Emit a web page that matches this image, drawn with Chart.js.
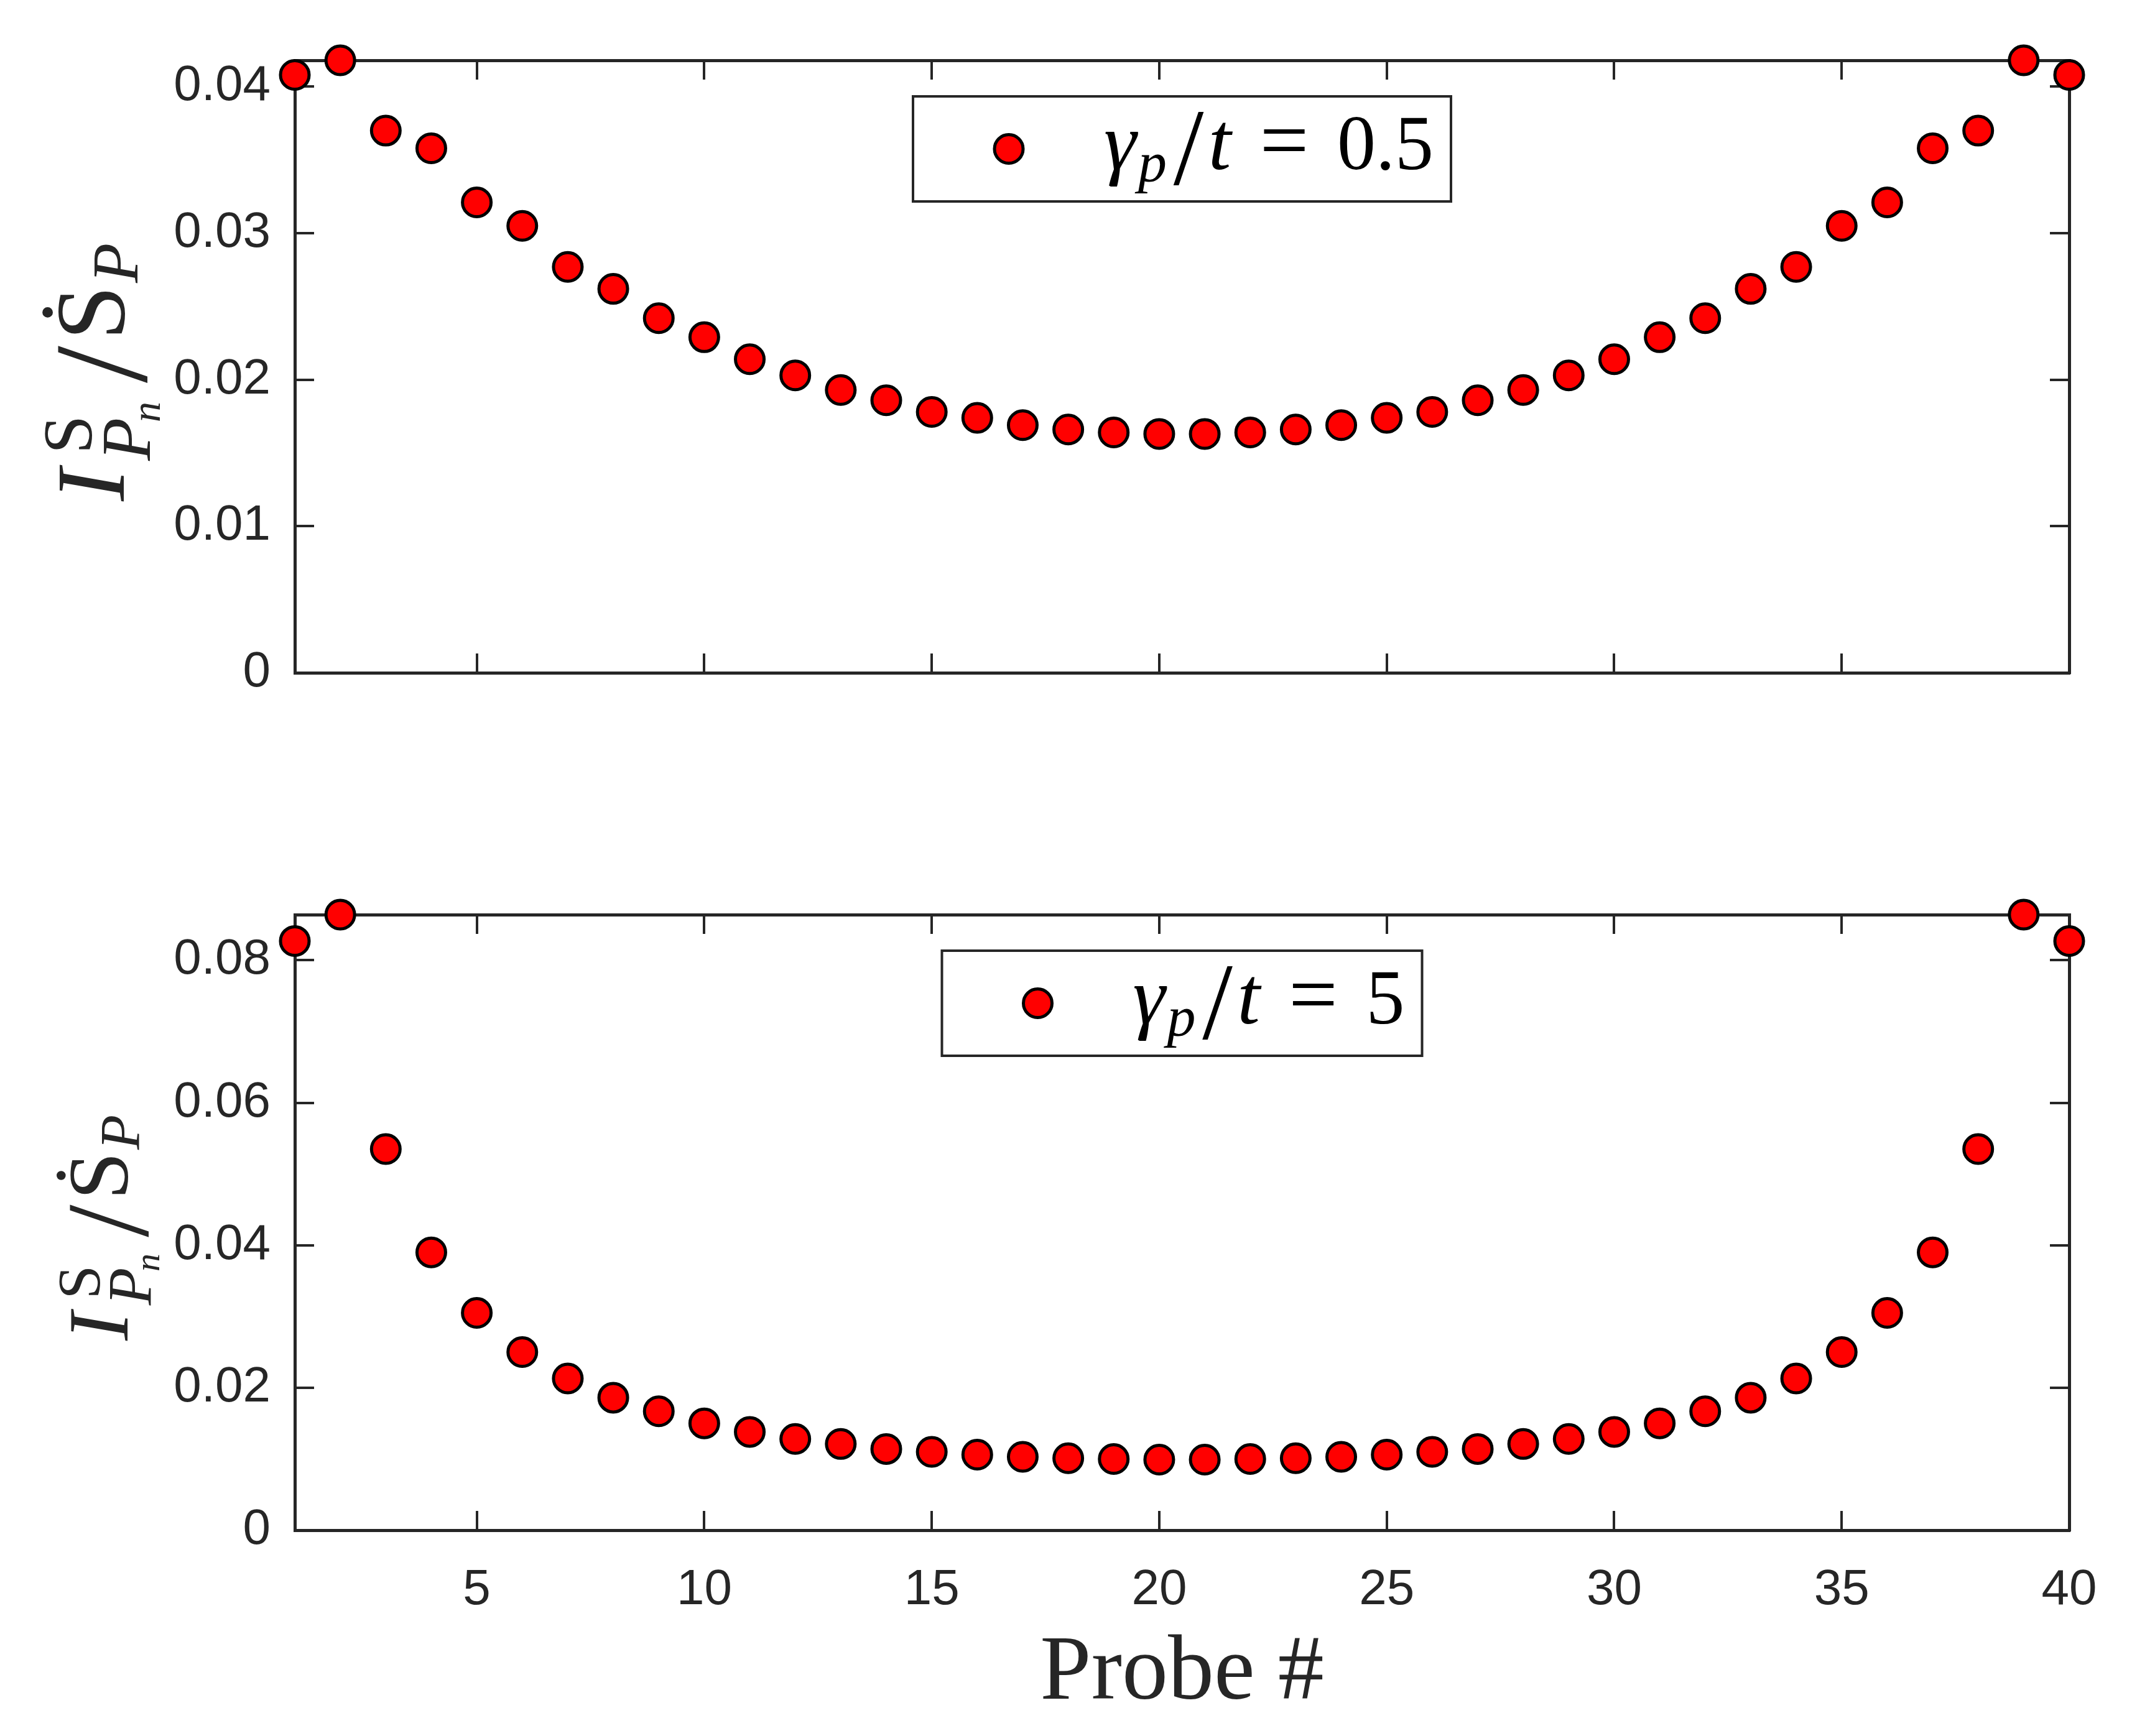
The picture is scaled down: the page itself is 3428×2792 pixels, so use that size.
<!DOCTYPE html>
<html>
<head>
<meta charset="utf-8">
<script src="https://cdn.jsdelivr.net/npm/chart.js@4.4.1/dist/chart.umd.min.js"></script>
<style>
html,body{margin:0;padding:0;background:#ffffff;}
canvas{position:absolute;left:0;}
#chartTop{top:0px;}
#chartBottom{top:1230px;}
</style>
</head>
<body>
<canvas id="chartTop" width="3428" height="1230" style="width:3428px;height:1230px"></canvas>
<canvas id="chartBottom" width="3428" height="1562" style="width:3428px;height:1562px"></canvas>
<script>
// ---------------- data ----------------
const probes = [1,2,3,4,5,6,7,8,9,10,11,12,13,14,15,16,17,18,19,20,
                21,22,23,24,25,26,27,28,29,30,31,32,33,34,35,36,37,38,39,40];

// gamma_p / t = 0.5
const ratioGamma05 = [0.0408,0.0418,0.0370,0.0358,0.0321,0.0305,0.0277,0.0262,0.0242,0.0229,
                      0.0214,0.0203,0.0193,0.0186,0.0178,0.0174,0.0169,0.0166,0.0164,0.0163,
                      0.0163,0.0164,0.0166,0.0169,0.0174,0.0178,0.0186,0.0193,0.0203,0.0214,
                      0.0229,0.0242,0.0262,0.0277,0.0305,0.0321,0.0358,0.0370,0.0418,0.0408];

// gamma_p / t = 5
const ratioGamma5 = [0.0827,0.0864,0.0535,0.0390,0.0305,0.0250,0.0213,0.0186,0.0167,0.0150,
                     0.0138,0.0128,0.0121,0.0114,0.0110,0.0106,0.0103,0.0101,0.0100,0.0099,
                     0.0099,0.0100,0.0101,0.0103,0.0106,0.0110,0.0114,0.0121,0.0128,0.0138,
                     0.0150,0.0167,0.0186,0.0213,0.0250,0.0305,0.0390,0.0535,0.0864,0.0827];

const xTickValues = [5,10,15,20,25,30,35,40];
const xTickLabels = ['5','10','15','20','25','30','35','40'];
const yTickValuesTop = [0,0.01,0.02,0.03,0.04];
const yTickLabelsTop = ['0','0.01','0.02','0.03','0.04'];
const yTickValuesBottom = [0,0.02,0.04,0.06,0.08];
const yTickLabelsBottom = ['0','0.02','0.04','0.06','0.08'];
const yMaxTop = 0.0418;
const yMaxBottom = 0.0864;
const legendValueTop = '0.5';
const legendValueBottom = '5';
const xAxisTitle = 'Probe #';

// ---------------- styling ----------------
const INK = '#262626';
const SERIF = '"Liberation Serif", "DejaVu Serif", serif';
const SANS = '"Liberation Sans", Arial, sans-serif';

function fixTicks(values) {
  return function (scale) { scale.ticks = values.map(v => ({ value: v })); };
}

// y-axis label  I^S_{P_n} / Ṡ_P  drawn as real text, rotated
function yLabelPlugin(baseX, startY, k) {
  const segs = [
    ['I', 'italic', 157, 0, 0],
    ['S', 'normal', 112, 76, -52],
    ['P', 'italic', 113, 65, 42],
    ['n', 'italic', 66, 127, 58],
    ['/', 'normal', 215, 190, 36],
    ['\u1E60', 'normal', 158, 259, 0],
    ['P', 'italic', 105, 351, 22]
  ];
  return {
    id: 'yLabel',
    afterDraw(chart) {
      const ctx = chart.ctx;
      ctx.save();
      ctx.translate(baseX, startY);
      ctx.rotate(-Math.PI / 2);
      ctx.fillStyle = INK;
      ctx.textAlign = 'left';
      ctx.textBaseline = 'alphabetic';
      for (const s of segs) {
        ctx.font = s[1] + ' ' + Math.round(s[2] * k) + 'px ' + SERIF;
        ctx.fillText(s[0], s[3] * k, s[4] * k);
      }
      ctx.restore();
    }
  };
}

// legend box  ● γ_p / t = value
function legendPlugin(valueText) {
  return {
    id: 'mathLegend',
    afterDraw(chart) {
      const ctx = chart.ctx;
      const ca = chart.chartArea;
      ctx.save();
      ctx.font = 'normal 124px ' + SERIF;
      const numW = ctx.measureText(valueText).width;
      const boxW = 682 + numW + 28;
      const boxH = 169;
      const boxLeft = (ca.left + ca.right) / 2 - boxW / 2;
      const boxTop = ca.top + 58;
      ctx.fillStyle = '#ffffff';
      ctx.fillRect(boxLeft, boxTop, boxW, boxH);
      ctx.lineWidth = 4;
      ctx.strokeStyle = INK;
      ctx.strokeRect(boxLeft, boxTop, boxW, boxH);
      // marker sample, same style as the dataset points
      const ds = chart.data.datasets[0];
      ctx.fillStyle = ds.pointBackgroundColor;
      ctx.strokeStyle = ds.pointBorderColor;
      ctx.lineWidth = ds.pointBorderWidth;
      Chart.helpers.drawPoint(ctx, { pointStyle: 'circle', radius: ds.pointRadius, borderWidth: ds.pointBorderWidth, rotation: 0 },
                              boxLeft + 154, boxTop + boxH / 2);
      // text
      const base = boxTop + 117;
      ctx.fillStyle = '#000000';
      ctx.textBaseline = 'alphabetic';
      ctx.textAlign = 'center';
      ctx.font = 'italic 132px ' + SERIF; ctx.fillText('\u03B3', boxLeft + 333, base);
      ctx.font = 'italic 92px ' + SERIF;  ctx.fillText('p', boxLeft + 385, base + 20);
      ctx.font = 'normal 175px ' + SERIF; ctx.fillText('/', boxLeft + 443, base + 24);
      ctx.font = 'italic 132px ' + SERIF; ctx.fillText('t', boxLeft + 493, base);
      ctx.font = 'normal 140px ' + SERIF; ctx.fillText('=', boxLeft + 597, base);
      ctx.textAlign = 'left';
      ctx.font = 'normal 124px ' + SERIF; ctx.fillText(valueText, boxLeft + 682, base);
      ctx.restore();
    }
  };
}

function makeChart(canvasId, values, yTickValues, yTickLabels, yMax, layout, extraPlugins) {
  const gridOpts = { drawOnChartArea: false, drawTicks: true, tickLength: -31, color: INK, lineWidth: 4 };
  const borderOpts = { display: true, color: INK, width: 5 };
  const tickFont = { family: SANS, size: 80 };
  const fitX = h => s => { s.height = h; s.paddingLeft = 0; s.paddingRight = 0; s.paddingTop = 0; s.paddingBottom = 0; };
  const fitY = w => s => { s.width = w; s.paddingTop = 0; s.paddingBottom = 0; s.paddingLeft = 0; s.paddingRight = 0; };
  return new Chart(document.getElementById(canvasId), {
    type: 'scatter',
    data: {
      datasets: [{
        data: probes.map((p, i) => ({ x: p, y: values[i] })),
        showLine: false,
        pointRadius: 23,
        pointHoverRadius: 23,
        pointBackgroundColor: '#ff0000',
        pointBorderColor: '#000000',
        pointBorderWidth: 5,
        clip: false
      }]
    },
    options: {
      responsive: false,
      animation: false,
      devicePixelRatio: 1,
      events: [],
      layout: { padding: { top: layout.padTop, right: 101, bottom: 0, left: 0 } },
      plugins: { legend: { display: false }, tooltip: { enabled: false } },
      scales: {
        x: {
          type: 'linear', position: 'bottom', min: 1, max: 40,
          afterBuildTicks: fixTicks(xTickValues),
          afterFit: fitX(layout.xAxisH),
          grid: gridOpts, border: borderOpts,
          ticks: {
            display: layout.showX, color: INK, font: tickFont, padding: 80,
            maxRotation: 0, autoSkip: false,
            callback: v => xTickLabels[xTickValues.indexOf(v)]
          },
          title: {
            display: layout.showX, text: xAxisTitle, color: INK,
            font: { family: SERIF, size: 148 }, padding: { top: 0, bottom: 10 }
          }
        },
        x2: {
          type: 'linear', position: 'top', min: 1, max: 40,
          afterBuildTicks: fixTicks(xTickValues),
          afterFit: fitX(0),
          grid: gridOpts, border: borderOpts,
          ticks: { display: false }
        },
        y: {
          type: 'linear', position: 'left', min: 0, max: yMax,
          afterBuildTicks: fixTicks(yTickValues),
          afterFit: fitY(474),
          grid: gridOpts, border: borderOpts,
          ticks: {
            color: INK, font: tickFont, padding: 70,
            callback: v => yTickLabels[yTickValues.indexOf(v)]
          }
        },
        y2: {
          type: 'linear', position: 'right', min: 0, max: yMax,
          afterBuildTicks: fixTicks(yTickValues),
          afterFit: fitY(0),
          grid: gridOpts, border: borderOpts,
          ticks: { display: false }
        }
      }
    },
    plugins: extraPlugins
  });
}

makeChart('chartTop', ratioGamma05, yTickValuesTop, yTickLabelsTop, yMaxTop,
  { padTop: 97, xAxisH: 148, showX: false },
  [yLabelPlugin(199, 806, 1), legendPlugin(legendValueTop)]);

makeChart('chartBottom', ratioGamma5, yTickValuesBottom, yTickLabelsBottom, yMaxBottom,
  { padTop: 241, xAxisH: 331, showX: true },
  [yLabelPlugin(205, 926, 0.875), legendPlugin(legendValueBottom)]);
</script>
</body>
</html>
